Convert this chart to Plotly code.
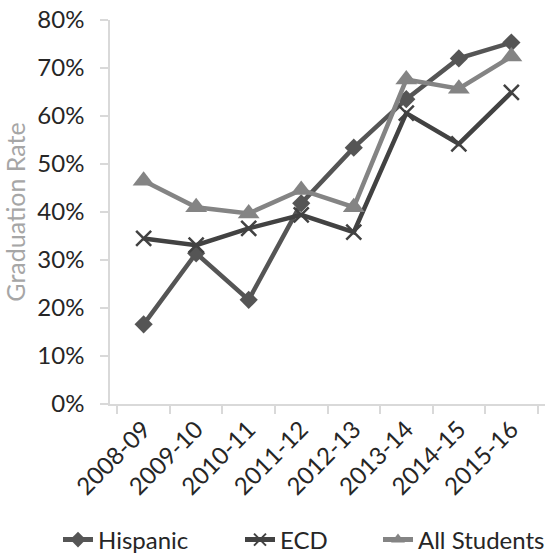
import plotly.graph_objects as go

years = ["2008-09", "2009-10", "2010-11", "2011-12", "2012-13", "2013-14", "2014-15", "2015-16"]
hispanic = [0.166, 0.314, 0.217, 0.418, 0.534, 0.635, 0.720, 0.753]
ecd = [0.345, 0.331, 0.366, 0.394, 0.358, 0.606, 0.542, 0.649]
all_students = [0.465, 0.410, 0.397, 0.446, 0.410, 0.676, 0.657, 0.724]

FONT = "Lato"
TXT = "#262626"

fig = go.Figure()
fig.add_trace(go.Scatter(
    x=years, y=hispanic, name="Hispanic", mode="lines+markers", legend="legend",
    line=dict(color="#555555", width=4.5),
    marker=dict(symbol="diamond", size=14, color="#555555"),
))
fig.add_trace(go.Scatter(
    x=years, y=ecd, name="ECD", mode="lines+markers", legend="legend2",
    line=dict(color="#424242", width=4.5),
    marker=dict(symbol="x-thin", size=15, color="#424242",
                line=dict(color="#424242", width=2.5)),
))
fig.add_trace(go.Scatter(
    x=years, y=all_students, name="All Students", mode="lines+markers", legend="legend3",
    line=dict(color="#848484", width=4.5),
    marker=dict(symbol="triangle-up", size=19, color="#848484"),
))

def leg(xpx):
    return dict(orientation="h", xref="container", yref="container",
                x=xpx / 545, y=16 / 556, xanchor="left", yanchor="middle",
                itemsizing="constant",
                font=dict(family=FONT, size=24, color=TXT), bgcolor="rgba(0,0,0,0)")

fig.update_layout(
    width=545, height=556,
    margin=dict(l=110, r=0, t=20, b=152),
    plot_bgcolor="white", paper_bgcolor="white",
    font=dict(family=FONT, size=24, color=TXT),
    showlegend=True,
    legend=leg(58),
    legend2=leg(240),
    legend3=leg(378),
)
fig.update_xaxes(
    type="category", tickson="boundaries", tickangle=-45,
    showline=True, linecolor="#d9d9d9", linewidth=1.5,
    ticks="outside", ticklen=8, tickcolor="#d9d9d9", tickwidth=1.5,
    showgrid=False, zeroline=False, automargin=False,
    tickfont=dict(family=FONT, size=24, color=TXT),
)
fig.update_yaxes(
    range=[0, 0.8], dtick=0.1, tickformat=".0%",
    showline=True, linecolor="#d9d9d9", linewidth=1.5,
    ticks="outside", ticklen=8, tickcolor="#d9d9d9", tickwidth=1.5,
    showgrid=False, zeroline=False, automargin=False,
    ticklabelstandoff=11,
    tickfont=dict(family=FONT, size=24, color=TXT),
    title=dict(text="Graduation Rate", font=dict(family=FONT, size=25, color="#a6a6a6"), standoff=10),
)

fig.write_html("out.html", config={"displayModeBar": False},
               post_script="document.body.style.margin='0';")
